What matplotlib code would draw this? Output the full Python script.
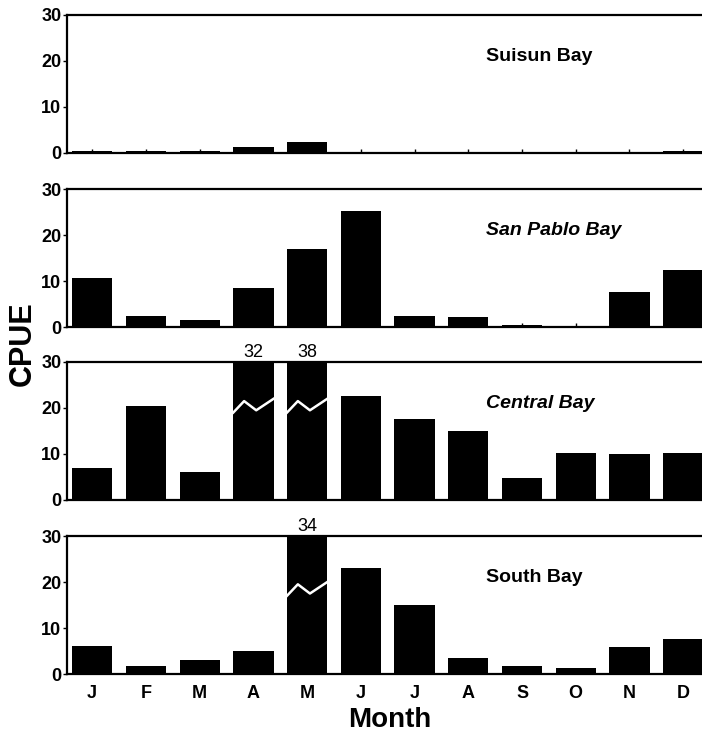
import matplotlib.pyplot as plt
import numpy as np

plt.rcParams['font.family'] = ['Liberation Sans', 'DejaVu Sans']

months = ['J', 'F', 'M', 'A', 'M', 'J', 'J', 'A', 'S', 'O', 'N', 'D']
bays = ['Suisun Bay', 'San Pablo Bay', 'Central Bay', 'South Bay']
bay_italic = [False, True, True, False]

suisun = [0.4, 0.4, 0.4, 1.2, 2.3, 0.3, 0.1, 0.1, 0.1, 0.1, 0.1, 0.4]
san_pablo = [10.7, 2.3, 1.5, 8.5, 16.9, 25.3, 2.3, 2.1, 0.4, 0.3, 7.7, 12.5]
central = [7.0, 20.4, 6.0, 32, 38, 22.7, 17.5, 15.0, 4.7, 10.3, 10.1, 10.2]
south = [6.1, 1.7, 3.1, 5.1, 34, 23.0, 15.1, 3.4, 1.8, 1.4, 5.9, 7.6]
series = [suisun, san_pablo, central, south]

ymax = 30
# axes bottoms in figure fractions
panels = [0.7927, 0.5569, 0.3225, 0.0867]

fig = plt.figure(figsize=(7.02, 7.38), dpi=100)
x = np.arange(len(months))
w = 0.75

for i, (vals, name) in enumerate(zip(series, bays)):
    ax = fig.add_axes([0.0954, panels[i], 0.9046, 0.187])
    ax.bar(x, vals, width=w, color='black')
    ax.set_xlim(-0.47, 11.35)
    ax.set_ylim(0, ymax)
    ax.set_yticks([0, 10, 20, 30])
    ax.set_yticklabels(['0', '10', '20', '30'], fontweight='bold')
    ax.tick_params(axis='y', direction='out', length=3, width=1, labelsize=13, pad=1)
    ax.tick_params(axis='x', direction='in', length=3, width=1, labelsize=13)
    ax.set_xticks(x)
    if i == 3:
        ax.set_xticklabels(months, fontweight='bold')
        ax.tick_params(axis='x', pad=8)
    else:
        ax.set_xticklabels([])
    for s in ['top', 'left', 'bottom']:
        ax.spines[s].set_linewidth(1.6)
    ax.spines['right'].set_visible(False)

    # broken bars that run past the top of the scale
    for xi, v in zip(x, vals):
        if v > ymax:
            ax.text(xi, ymax + 0.3, f"{v:g}", ha='center', va='bottom', fontsize=13)
            base = 19 if i == 2 else 17
            zx = xi + np.array([-0.5, -0.23, 0.07, 0.5]) * w
            zy = base + np.array([0, 2.5, 0.5, 3.0])
            ax.plot(zx, zy, color='white', lw=1.8, clip_on=False)

    ax.text(0.66, 0.70, name, transform=ax.transAxes, ha='left', va='center',
            fontsize=14, fontweight='bold',
            fontstyle='italic' if bay_italic[i] else 'normal')

fig.text(0.032, 0.535, 'CPUE', rotation=90, ha='center', va='center',
         fontsize=22, fontweight='bold')
fig.text(0.555, 0.024, 'Month', ha='center', va='center',
         fontsize=20, fontweight='bold')

plt.savefig('out.png', dpi=100)
